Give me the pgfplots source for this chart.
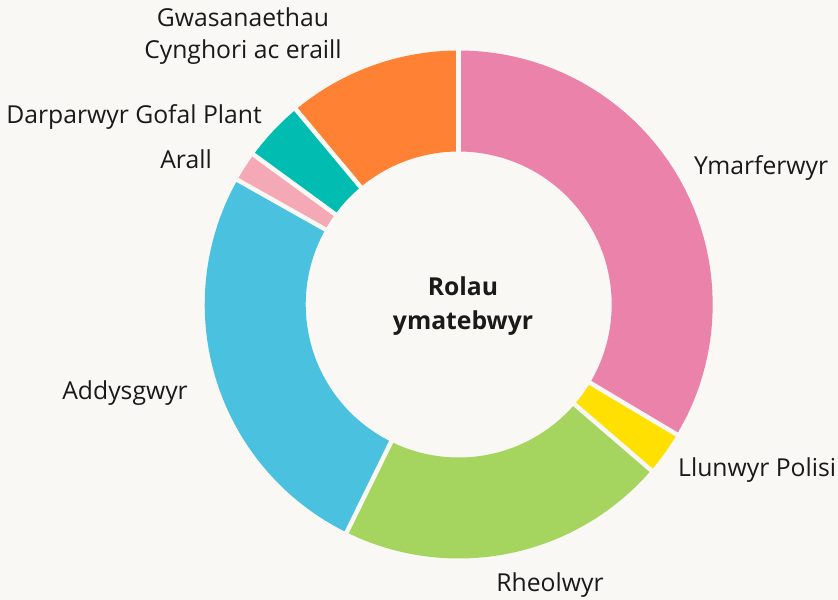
\documentclass[border=0pt]{standalone}
\usepackage{fontspec}
\setmainfont{Open Sans}
\usepackage{pgfplots}
\usepackage{pgfplotstable}
\pgfplotsset{compat=1.18}
\definecolor{bg}{HTML}{F9F8F5}
\definecolor{txt}{HTML}{1A1A1A}
\definecolor{cA}{HTML}{EA82AA}
\definecolor{cB}{HTML}{FFE000}
\definecolor{cC}{HTML}{A5D55F}
\definecolor{cD}{HTML}{4BC1E0}
\definecolor{cE}{HTML}{F5A9B6}
\definecolor{cF}{HTML}{00BCB1}
\definecolor{cG}{HTML}{FF8133}

% share of each role (percent), clockwise from the top
\pgfplotstableread[col sep=comma]{
label,value
Ymarferwyr,33.56
Llunwyr Polisi,2.76
Rheolwyr,20.96
Addysgwyr,25.89
Arall,1.88
Darparwyr Gofal Plant,3.89
Gwasanaethau Cynghori ac eraill,11.07
}\slices

\pgfplotstablegetelem{0}{value}\of\slices\let\vA\pgfplotsretval
\pgfplotstablegetelem{1}{value}\of\slices\let\vB\pgfplotsretval
\pgfplotstablegetelem{2}{value}\of\slices\let\vC\pgfplotsretval
\pgfplotstablegetelem{3}{value}\of\slices\let\vD\pgfplotsretval
\pgfplotstablegetelem{4}{value}\of\slices\let\vE\pgfplotsretval
\pgfplotstablegetelem{5}{value}\of\slices\let\vF\pgfplotsretval
\pgfplotstablegetelem{6}{value}\of\slices\let\vG\pgfplotsretval
\pgfmathsetmacro\total{\vA+\vB+\vC+\vD+\vE+\vF+\vG}
\pgfmathsetmacro\aO{90}
\pgfmathsetmacro\aA{\aO-360*\vA/\total}
\pgfmathsetmacro\aB{\aA-360*\vB/\total}
\pgfmathsetmacro\aC{\aB-360*\vC/\total}
\pgfmathsetmacro\aD{\aC-360*\vD/\total}
\pgfmathsetmacro\aE{\aD-360*\vE/\total}
\pgfmathsetmacro\aF{\aE-360*\vF/\total}
\pgfmathsetmacro\aG{\aF-360*\vG/\total}

\def\cx{458.7}
\def\cy{295.5}
\def\Ro{254}
\def\Ri{153}

\newcommand\donutslice[3]{%
  \addplot[fill=#3, draw=none, variable=\t,
    samples at={0,0.02,...,0.98,1,1.0001,1.02,1.04,...,1.98,2}]
  ({\cx + ifthenelse(\t<1.00005,\Ro,\Ri)*cos(#1+(#2-#1)*(1-abs(\t-1)))},
   {\cy + ifthenelse(\t<1.00005,\Ro,\Ri)*sin(#1+(#2-#1)*(1-abs(\t-1)))});
}
\newcommand\gap[1]{%
  \addplot[bg, line width=4.5bp, domain=\Ri-4:\Ro+4, samples=2]
  ({\cx + x*cos(#1)}, {\cy + x*sin(#1)});
}

\begin{document}
\begin{tikzpicture}
\fill[bg] (0,0) rectangle (838bp,600bp);
\begin{axis}[at={(0,0)}, anchor=south west,
  width=838bp, height=600bp, scale only axis,
  xmin=0, xmax=838, ymin=0, ymax=600,
  hide axis, clip=false]
\donutslice{\aO}{\aA}{cA}
\donutslice{\aA}{\aB}{cB}
\donutslice{\aB}{\aC}{cC}
\donutslice{\aC}{\aD}{cD}
\donutslice{\aD}{\aE}{cE}
\donutslice{\aE}{\aF}{cF}
\donutslice{\aF}{\aG}{cG}
\gap{\aO}\gap{\aA}\gap{\aB}\gap{\aC}\gap{\aD}\gap{\aE}\gap{\aF}

\begin{scope}[every node/.style={font=\fontsize{24.8}{32}\selectfont, text=txt, inner sep=0pt}]
\node[anchor=west] at (axis cs:694,432) {Ymarferwyr};
\node[anchor=west] at (axis cs:678,130) {Llunwyr Polisi};
\node at (axis cs:550,15) {Rheolwyr};
\node[anchor=east] at (axis cs:188,207) {Addysgwyr};
\node[anchor=east] at (axis cs:212,441) {Arall};
\node[anchor=east] at (axis cs:262,483) {Darparwyr Gofal Plant};
\node[align=center] at (axis cs:243,564) {Gwasanaethau\\Cynghori ac eraill};
\node[align=center, font=\fontsize{24.8}{34}\selectfont\bfseries] at (axis cs:463,294) {Rolau\\ymatebwyr};
\end{scope}
\end{axis}
\end{tikzpicture}
\end{document}
